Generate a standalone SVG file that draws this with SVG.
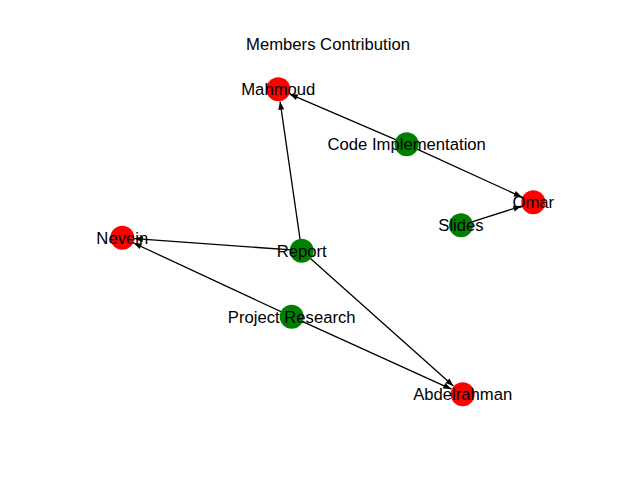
<svg xmlns="http://www.w3.org/2000/svg" width="640" height="480" viewBox="0 0 640 480">
<defs>
<marker id="ah" markerUnits="userSpaceOnUse" markerWidth="9" markerHeight="7" refX="8" refY="3" orient="auto" overflow="visible">
<path d="M0,0 L8,3 L0,6 z" fill="#000"/>
</marker>
<style>
.e{stroke:#000;stroke-width:1.3;fill:none;marker-end:url(#ah)}
.r{fill:#ff0000}
.g{fill:#008000}
text{font-family:"Liberation Sans",Arial,sans-serif;font-size:16.67px;fill:#000;text-anchor:middle}
</style>
</defs>
<rect width="640" height="480" fill="#fff"/>
<text x="328" y="49.5">Members Contribution</text>
<g id="edges">
<line class="e" x1="406.7" y1="144.3" x2="289.8" y2="94.2"/>
<line class="e" x1="406.7" y1="144.3" x2="521.9" y2="197.1"/>
<line class="e" x1="461" y1="225.3" x2="521.4" y2="206.1"/>
<line class="e" x1="301.7" y1="250.7" x2="280.1" y2="101.7"/>
<line class="e" x1="301.7" y1="250.7" x2="134.8" y2="238.6"/>
<line class="e" x1="301.7" y1="250.7" x2="453.4" y2="386.0"/>
<line class="e" x1="291.7" y1="316.7" x2="133.6" y2="243.0"/>
<line class="e" x1="291.7" y1="316.7" x2="451.3" y2="389.1"/>
</g>
<g id="Mahmoud"><circle class="r" cx="278.3" cy="89.3" r="12"/><text x="278.3" y="95.3">Mahmoud</text></g>
<g id="CodeImplementation"><circle class="g" cx="406.7" cy="144.3" r="12"/><text x="406.7" y="150.3">Code Implementation</text></g>
<g id="Omar"><circle class="r" cx="533.3" cy="202.3" r="12"/><text x="533.3" y="208.3">Omar</text></g>
<g id="Slides"><circle class="g" cx="461" cy="225.3" r="12"/><text x="461" y="231.3">Slides</text></g>
<g id="Nevein"><circle class="r" cx="122.3" cy="237.7" r="12"/><text x="122.3" y="243.7">Nevein</text></g>
<g id="Report"><circle class="g" cx="301.7" cy="250.7" r="12"/><text x="301.7" y="256.7">Report</text></g>
<g id="ProjectResearch"><circle class="g" cx="291.7" cy="316.7" r="12"/><text x="291.7" y="322.7">Project Research</text></g>
<g id="Abdelrahman"><circle class="r" cx="462.7" cy="394.3" r="12"/><text x="462.7" y="400.3">Abdelrahman</text></g>
</svg>
